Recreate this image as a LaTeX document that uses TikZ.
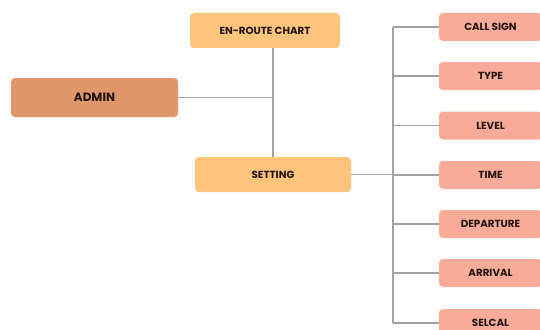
\documentclass[tikz,border=0pt]{standalone}
\usepackage{fontspec}
\setmainfont{Poppins}
\definecolor{topbox}{HTML}{FFC47C}
\definecolor{adminbox}{HTML}{E0956A}
\definecolor{leafbox}{HTML}{F9AB99}
\definecolor{linegray}{HTML}{A0A0A0}
\definecolor{txt}{HTML}{22140F}
\tikzset{
  box/.style={rounded corners=4pt, inner sep=0pt, text=txt, font=\fontsize{10.3}{12}\selectfont\bfseries},
  midbox/.style={box, fill=topbox, minimum width=150pt, minimum height=35pt},
  adminstyle/.style={box, fill=adminbox, minimum width=167pt, minimum height=39pt, font=\fontsize{12}{14}\selectfont\bfseries},
  leaf/.style={box, fill=leafbox, minimum width=103pt, minimum height=28pt},
  conn/.style={draw=linegray, line width=1.1pt}
}
\begin{document}
\begin{tikzpicture}[x=1pt,y=-1pt]
\useasboundingbox (0,0) rectangle (540,329);
\node[midbox] (enroute) at (265,30.5) {EN-ROUTE CHART};
\node[adminstyle] (admin) at (94.5,97.5) {ADMIN};
\node[midbox, minimum width=156pt] (setting) at (273,174.5) {SETTING};
\node[leaf] (callsign) at (490.5,27) {CALL SIGN};
\node[leaf] (type) at (490.5,76) {TYPE};
\node[leaf] (level) at (490.5,125.5) {LEVEL};
\node[leaf] (time) at (490.5,175) {TIME};
\node[leaf] (departure) at (490.5,224) {DEPARTURE};
\node[leaf] (arrival) at (490.5,273) {ARRIVAL};
\node[leaf] (selcal) at (490.5,323) {SELCAL};
\coordinate (hub) at (273,97.5);
\coordinate (trunktop) at (393,27);
\coordinate (trunkbot) at (393,323);
\draw[conn] (hub |- enroute.south) -- (setting.north);
\draw[conn] (admin.east) -- (hub);
\draw[conn] (setting.east) -- (setting.east -| trunktop);
\draw[conn] (trunktop) -- (trunkbot);
\foreach \n in {callsign,type,level,time,departure,arrival,selcal}
  \draw[conn] (\n.west -| trunktop) -- (\n.west);
\end{tikzpicture}
\end{document}
